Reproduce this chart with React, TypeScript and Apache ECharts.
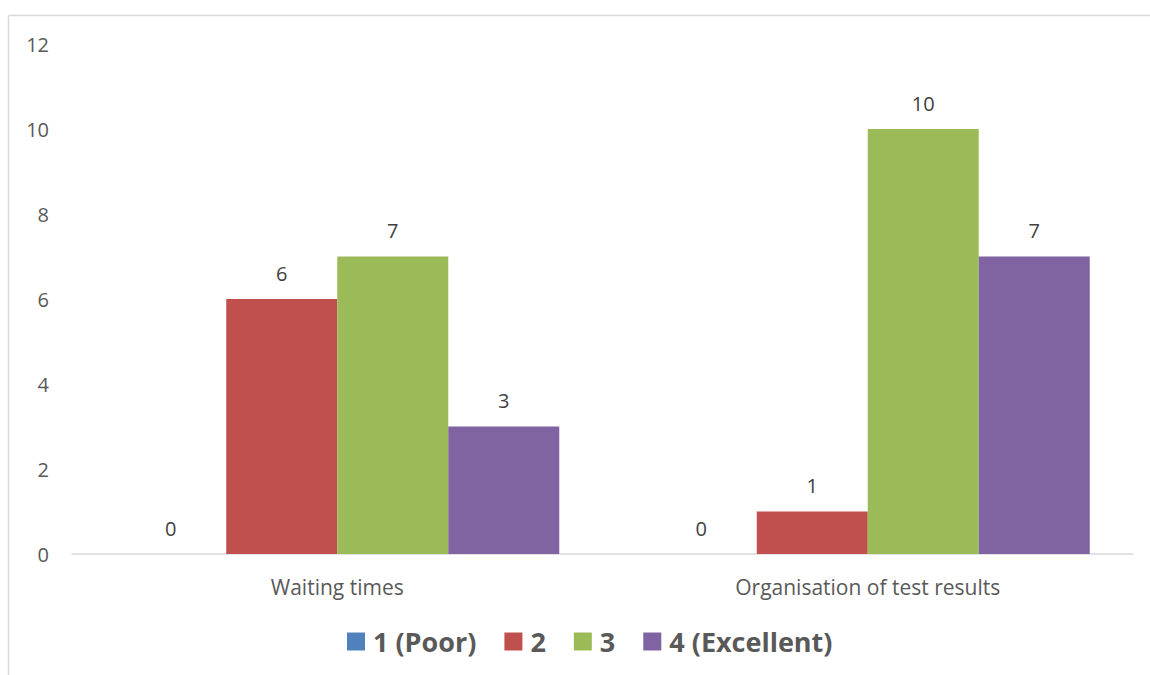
import React, { useEffect, useRef } from "react";
import * as echarts from "echarts";

const categories = ["Waiting times", "Organisation of test results"];
const seriesNames = ["1 (Poor)", "2", "3", "4 (Excellent)"];
const poor = [0, 0];
const two = [6, 1];
const three = [7, 10];
const excellent = [3, 7];
const colors = ["#4F81BD", "#C0504D", "#9BBB59", "#8064A2"];
const yTicks = [0, 2, 4, 6, 8, 10, 12];

export default function App() {
  const ref = useRef<HTMLDivElement>(null);
  useEffect(() => {
    if (!ref.current) return;
    const chart = echarts.init(ref.current, null, { renderer: "svg" });
    const values = [poor, two, three, excellent];
    const font = "'Open Sans', 'Liberation Sans', sans-serif";
    chart.setOption({
      animation: false,
      textStyle: { fontFamily: font },
      graphic: [
        {
          type: "line",
          shape: { x1: 8.5, y1: 15.5, x2: 1150, y2: 15.5 },
          style: { stroke: "#d9d9d9", lineWidth: 1.5 },
        },
        {
          type: "line",
          shape: { x1: 8.5, y1: 15.5, x2: 8.5, y2: 675 },
          style: { stroke: "#d9d9d9", lineWidth: 1.5 },
        },
      ],
      grid: { left: 72, right: 17, top: 44, bottom: 121 },
      legend: {
        bottom: 15,
        left: 342,
        itemWidth: 18,
        itemHeight: 18,
        itemGap: 28,
        icon: "rect",
        textStyle: {
          fontSize: 27,
          fontWeight: "bold",
          color: "#595959",
          fontFamily: font,
          padding: [0, 0, 0, 3],
        },
        data: seriesNames,
      },
      xAxis: {
        type: "category",
        data: categories,
        axisLine: { lineStyle: { color: "#d9d9d9", width: 1.5 } },
        axisTick: { show: false },
        axisLabel: { fontSize: 21, color: "#595959", margin: 22, fontFamily: font },
      },
      yAxis: {
        type: "value",
        min: yTicks[0],
        max: yTicks[yTicks.length - 1],
        interval: 2,
        splitLine: { show: false },
        axisLine: { show: false },
        axisTick: { show: false },
        axisLabel: { fontSize: 20, color: "#595959", margin: 23, fontFamily: font },
      },
      series: seriesNames.map((name, i) => ({
        name,
        type: "bar",
        data: values[i],
        itemStyle: { color: colors[i] },
        barGap: "0%",
        barCategoryGap: "16.3%",
        label: {
          show: true,
          position: "top",
          distance: 16,
          fontSize: 20,
          color: "#404040",
          fontFamily: font,
        },
      })),
    });
    return () => chart.dispose();
  }, []);
  return (
    <div
      ref={ref}
      style={{ position: "absolute", left: 0, top: 0, width: 1150, height: 675, background: "#fff" }}
    />
  );
}
